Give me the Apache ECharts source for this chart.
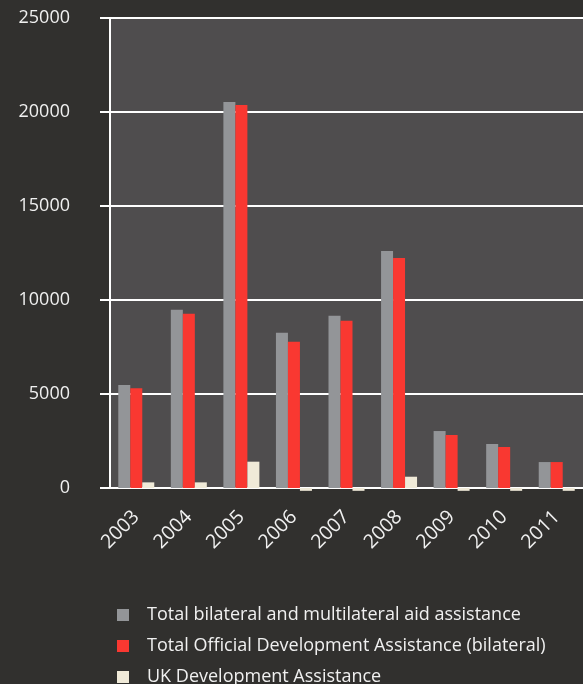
<!DOCTYPE html>
<html>
<head>
<meta charset="utf-8">
<script src="https://cdn.jsdelivr.net/npm/echarts@6/dist/echarts.min.js"></script>
<style>
  html, body { margin: 0; padding: 0; background: #31302e; }
  #chart { width: 583px; height: 684px; }
</style>
</head>
<body>
<div id="chart"></div>
<script>
  // categories
  var years = ['2003', '2004', '2005', '2006', '2007', '2008', '2009', '2010', '2011'];
  // series values
  var totalAid = [5480, 9480, 20530, 8260, 9160, 12610, 3030, 2340, 1380];
  var totalOda = [5300, 9270, 20370, 7780, 8900, 12230, 2820, 2180, 1380];
  var ukAid = [300, 300, 1400, -150, -150, 600, -150, -150, -150];
  var seriesNames = [
    'Total bilateral and multilateral aid assistance',
    'Total Official Development Assistance (bilateral)',
    'UK Development Assistance'
  ];
  var colors = ['#939598', '#f93831', '#f0ead8'];

  var font = '"Open Sans", sans-serif';

  function bar(name, data, color) {
    return {
      name: name,
      type: 'bar',
      data: data,
      barWidth: 12,
      barGap: '0%',
      clip: false,
      itemStyle: { color: color }
    };
  }

  // one legend per row so the column never wraps at the page bottom
  var legends = seriesNames.map(function (n, i) {
    return {
      left: 117, top: 606 + i * 31, padding: 0,
      itemWidth: 12, itemHeight: 12,
      icon: 'rect',
      textStyle: { color: '#f0f0f0', fontSize: 18, fontFamily: font, padding: [0, 0, 0, 13] },
      data: [n]
    };
  });

  var chart = echarts.init(document.getElementById('chart'));
  chart.setOption({
    backgroundColor: '#31302e',
    animation: false,
    color: colors,
    grid: {
      left: 110, top: 18, width: 479, height: 470,
      show: true, backgroundColor: '#4f4d4e', borderWidth: 0
    },
    legend: legends,
    xAxis: {
      type: 'category',
      data: years,
      axisLine: { lineStyle: { color: '#ffffff', width: 2 } },
      axisTick: { length: 12, lineStyle: { color: '#ffffff', width: 2 } },
      axisLabel: { rotate: 45, margin: 26, color: '#f0f0f0', fontSize: 19.5, fontFamily: font }
    },
    yAxis: {
      type: 'value',
      min: 0, max: 25000, interval: 5000,
      axisLine: { show: true, lineStyle: { color: '#ffffff', width: 2 } },
      axisTick: { show: true, length: 10, lineStyle: { color: '#ffffff', width: 2 } },
      splitLine: { lineStyle: { color: '#ffffff', width: 2 } },
      axisLabel: {
        margin: 40, color: '#f0f0f0', fontSize: 18, fontFamily: font,
        formatter: function (v) { return String(v); }
      }
    },
    series: [
      bar(seriesNames[0], totalAid, colors[0]),
      bar(seriesNames[1], totalOda, colors[1]),
      bar(seriesNames[2], ukAid, colors[2])
    ]
  });
</script>
</body>
</html>
